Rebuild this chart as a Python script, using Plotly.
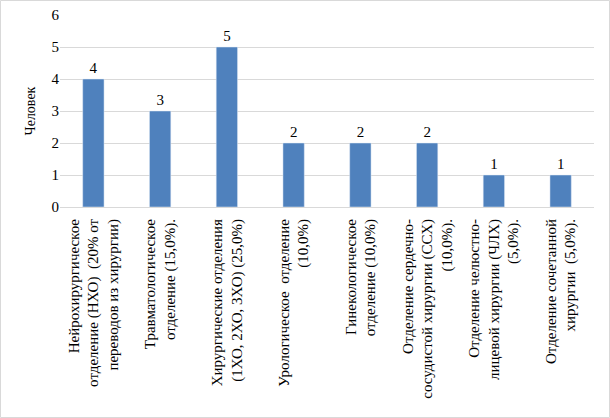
import plotly.graph_objects as go

# Departments (tick labels keep the original line breaks)
departments = [
    "Нейрохирургическое<br>отделение (НХО)  (20% от<br>переводов из хирургии)",
    "Травматологическое<br>отделение (15,0%).",
    "Хирургические отделения<br>(1ХО, 2ХО, 3ХО) (25,0%)",
    "Урологическое  отделение<br>(10,0%)",
    "Гинекологическое<br>отделение (10,0%)",
    "Отделение сердечно-<br>сосудистой хирургии (ССХ)<br>(10,0%).",
    "Отделение челюстно-<br>лицевой хирургии (ЧЛХ)<br>(5,0%).",
    "Отделение сочетанной<br>хирургии  (5,0%).",
]
patients = [4, 3, 5, 2, 2, 2, 1, 1]

SERIF = "Liberation Serif"
W, H = 610, 418
L, R, T, B = 60, 16, 15, 211
pw, ph = W - L - R, H - T - B

fig = go.Figure()
fig.add_trace(go.Bar(
    x=list(range(len(departments))), y=patients,
    marker_color="#4F81BD", width=0.32,
    text=patients, textposition="outside", cliponaxis=False,
    textfont=dict(family=SERIF, size=15, color="#000000"),
))

fig.update_layout(
    width=W, height=H,
    margin=dict(l=L, r=R, t=T, b=B),
    plot_bgcolor="white", paper_bgcolor="white",
    showlegend=False,
    font=dict(family=SERIF, size=14, color="#000000"),
    xaxis=dict(
        tickmode="array", tickvals=list(range(len(departments))),
        ticktext=departments, tickangle=-90, range=[-0.5, len(departments) - 0.5],
        showline=True, linecolor="#D9D9D9", ticks="", showgrid=False,
        tickfont=dict(family=SERIF, size=15), automargin=False,
        ticklabelstandoff=5,
    ),
    yaxis=dict(
        range=[0, 6], dtick=1, showgrid=True, gridcolor="#D9D9D9",
        zeroline=False, ticks="", tickfont=dict(family=SERIF, size=15),
        automargin=False,
        title=dict(text="Человек", font=dict(family=SERIF, size=14), standoff=12),
    ),
    shapes=[dict(
        type="rect", xref="paper", yref="paper",
        x0=(0.5 - L) / pw, x1=(W - 0.5 - L) / pw,
        y0=-(B - 0.5) / ph, y1=1 + (T - 0.5) / ph,
        line=dict(color="#D9D9D9", width=1),
    )],
)

fig.write_html("out.html", config={"displayModeBar": False},
               post_script="document.body.style.margin='0';")
